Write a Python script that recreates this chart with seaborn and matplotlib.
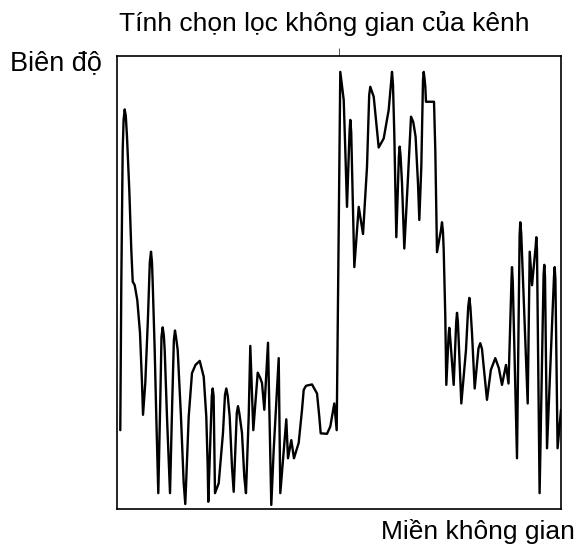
import matplotlib
matplotlib.use("Agg")
import matplotlib.pyplot as plt
import seaborn as sns
import pandas as pd

# Spatial position (0-100) and channel amplitude (0-100)
position = [
    0.74, 0.97, 1.28, 1.49, 1.73, 1.98, 2.25, 2.77, 3.22, 3.54, 3.99, 4.57,
    5.18, 5.63, 5.86, 6.37, 6.98, 7.39, 7.66, 7.88, 8.04, 8.49, 8.85, 9.30,
    9.75, 10.02, 10.29, 10.54, 10.74, 11.26, 11.94, 12.45, 12.81, 13.06, 13.33, 13.67,
    14.41, 15.02, 15.38, 16.15, 16.89, 17.68, 18.63, 19.53, 20.11, 20.43, 20.56, 21.35,
    21.55, 21.76, 22.07, 22.91, 23.87, 24.32, 24.62, 24.95, 25.38, 25.90, 26.28, 26.98,
    27.25, 27.54, 28.15, 28.67, 29.05, 29.66, 30.02, 30.70, 31.69, 32.27, 32.66, 33.18,
    34.01, 34.75, 35.29, 36.42, 36.78, 38.13, 38.51, 39.26, 39.86, 40.92, 41.67, 42.05,
    42.57, 43.92, 45.05, 45.56, 45.88, 47.30, 48.04, 48.94, 49.48, 49.89, 50.29, 51.06,
    51.42, 51.80, 52.39, 52.55, 52.75, 53.45, 54.44, 55.41, 56.31, 56.80, 57.05, 57.82,
    58.40, 58.94, 60.07, 61.19, 61.76, 61.94, 62.16, 62.45, 62.91, 63.49, 63.67, 63.87,
    64.19, 64.71, 65.47, 66.22, 66.73, 67.25, 67.79, 68.09, 68.54, 68.92, 69.08, 69.26,
    69.44, 69.59, 71.40, 71.69, 72.07, 72.97, 73.20, 73.42, 73.58, 73.94, 74.17, 74.68,
    74.84, 75.05, 75.83, 76.40, 76.58, 76.78, 77.55, 78.60, 79.10, 79.35, 79.59, 79.95,
    80.56, 81.42, 81.82, 82.21, 82.59, 83.33, 84.20, 85.20, 86.00, 86.71, 87.61, 88.18,
    88.85, 88.96, 89.14, 90.09, 90.68, 90.83, 91.04, 92.50, 92.95, 93.47, 94.28, 94.44,
    94.59, 95.18, 96.08, 96.24, 96.40, 96.85, 98.42, 98.58, 98.74, 99.23, 100.0,
]
amplitude = [
    17.4, 49.9, 79.2, 85.9, 88.2, 86.8, 82.2, 70.4, 57.2, 50.2, 49.4, 46.1,
    38.9, 27.8, 20.8, 27.8, 42.4, 54.5, 56.8, 54.5, 49.9, 35.1, 20.3, 3.5,
    24.1, 38.0, 40.1, 38.4, 35.1, 20.3, 3.5, 24.1, 37.3, 39.4, 37.7, 35.1,
    20.3, 5.7, 1.1, 20.4, 30.0, 31.8, 32.7, 29.2, 20.4, 9.3, 1.6, 24.9,
    26.6, 24.9, 3.5, 5.7, 16.8, 25.2, 26.6, 24.9, 20.4, 9.3, 3.8, 21.2,
    22.7, 21.2, 16.8, 7.1, 3.5, 20.4, 36.0, 17.4, 30.1, 28.9, 27.8, 21.9,
    36.7, 0.9, 13.0, 33.3, 3.5, 19.8, 11.2, 15.2, 11.2, 14.6, 21.9, 26.3,
    27.2, 27.5, 25.5, 20.4, 16.7, 16.6, 18.2, 23.3, 17.4, 57.2, 96.5, 90.3,
    79.2, 66.7, 83.7, 85.9, 83.2, 53.4, 66.7, 60.7, 75.6, 91.4, 93.2, 91.0,
    85.1, 79.8, 81.8, 88.1, 94.7, 96.5, 93.6, 83.0, 60.0, 77.9, 80.0, 77.9,
    71.9, 57.5, 71.9, 86.6, 85.4, 82.2, 71.9, 63.8, 75.6, 94.7, 96.5, 95.1,
    93.2, 89.9, 89.9, 79.2, 56.7, 61.6, 63.3, 61.1, 57.2, 42.5, 27.4, 38.2,
    40.0, 37.7, 27.4, 41.3, 43.3, 41.3, 23.3, 35.1, 44.6, 46.6, 44.6, 38.9,
    26.6, 35.5, 36.6, 35.3, 31.4, 24.1, 30.7, 33.3, 31.1, 27.4, 31.8, 27.7,
    50.6, 53.4, 50.1, 11.2, 60.5, 63.3, 60.9, 23.3, 56.8, 49.4, 57.8, 60.0,
    57.2, 3.5, 51.7, 53.9, 51.2, 13.4, 51.2, 53.4, 50.6, 13.4, 21.9,
]

title_text = "Tính chọn lọc không gian của kênh"
y_label = "Biên độ"
x_label = "Miền không gian"

sns.set_style("white")
plt.rcParams["font.family"] = ["Liberation Sans", "DejaVu Sans"]

df = pd.DataFrame({"position": position, "amplitude": amplitude})

fig = plt.figure(figsize=(5.81, 5.51), dpi=100)
ax = fig.add_axes([117 / 581, 1 - 509 / 551, 444 / 581, 453 / 551])

sns.lineplot(data=df, x="position", y="amplitude", sort=False, estimator=None,
             color="black", linewidth=1.7, ax=ax)
for ln in ax.get_lines():
    ln.set_solid_joinstyle("round")

ax.set_xlim(0, 100)
ax.set_ylim(0, 100)
ax.set_xlabel("")
ax.set_ylabel("")
ax.set_yticks([])
ax.set_xticks([50])
ax.set_xticklabels([""])
ax.xaxis.tick_top()
ax.tick_params(axis="x", direction="out", length=6, width=0.7, color="#555555",
               top=True, bottom=False)
for s in ax.spines.values():
    s.set_color("black")
    s.set_linewidth(1.2)
    s.set_visible(True)

fig.text(324 / 581, 1 - 23 / 551, title_text, ha="center", va="center",
         fontsize=19, color="black")
fig.text(10 / 581, 1 - 63 / 551, y_label, ha="left", va="center",
         fontsize=19.5, color="black")
fig.text(575 / 581, 1 - 531 / 551, x_label, ha="right", va="center",
         fontsize=19, color="black")

fig.savefig("out.png", dpi=100)
